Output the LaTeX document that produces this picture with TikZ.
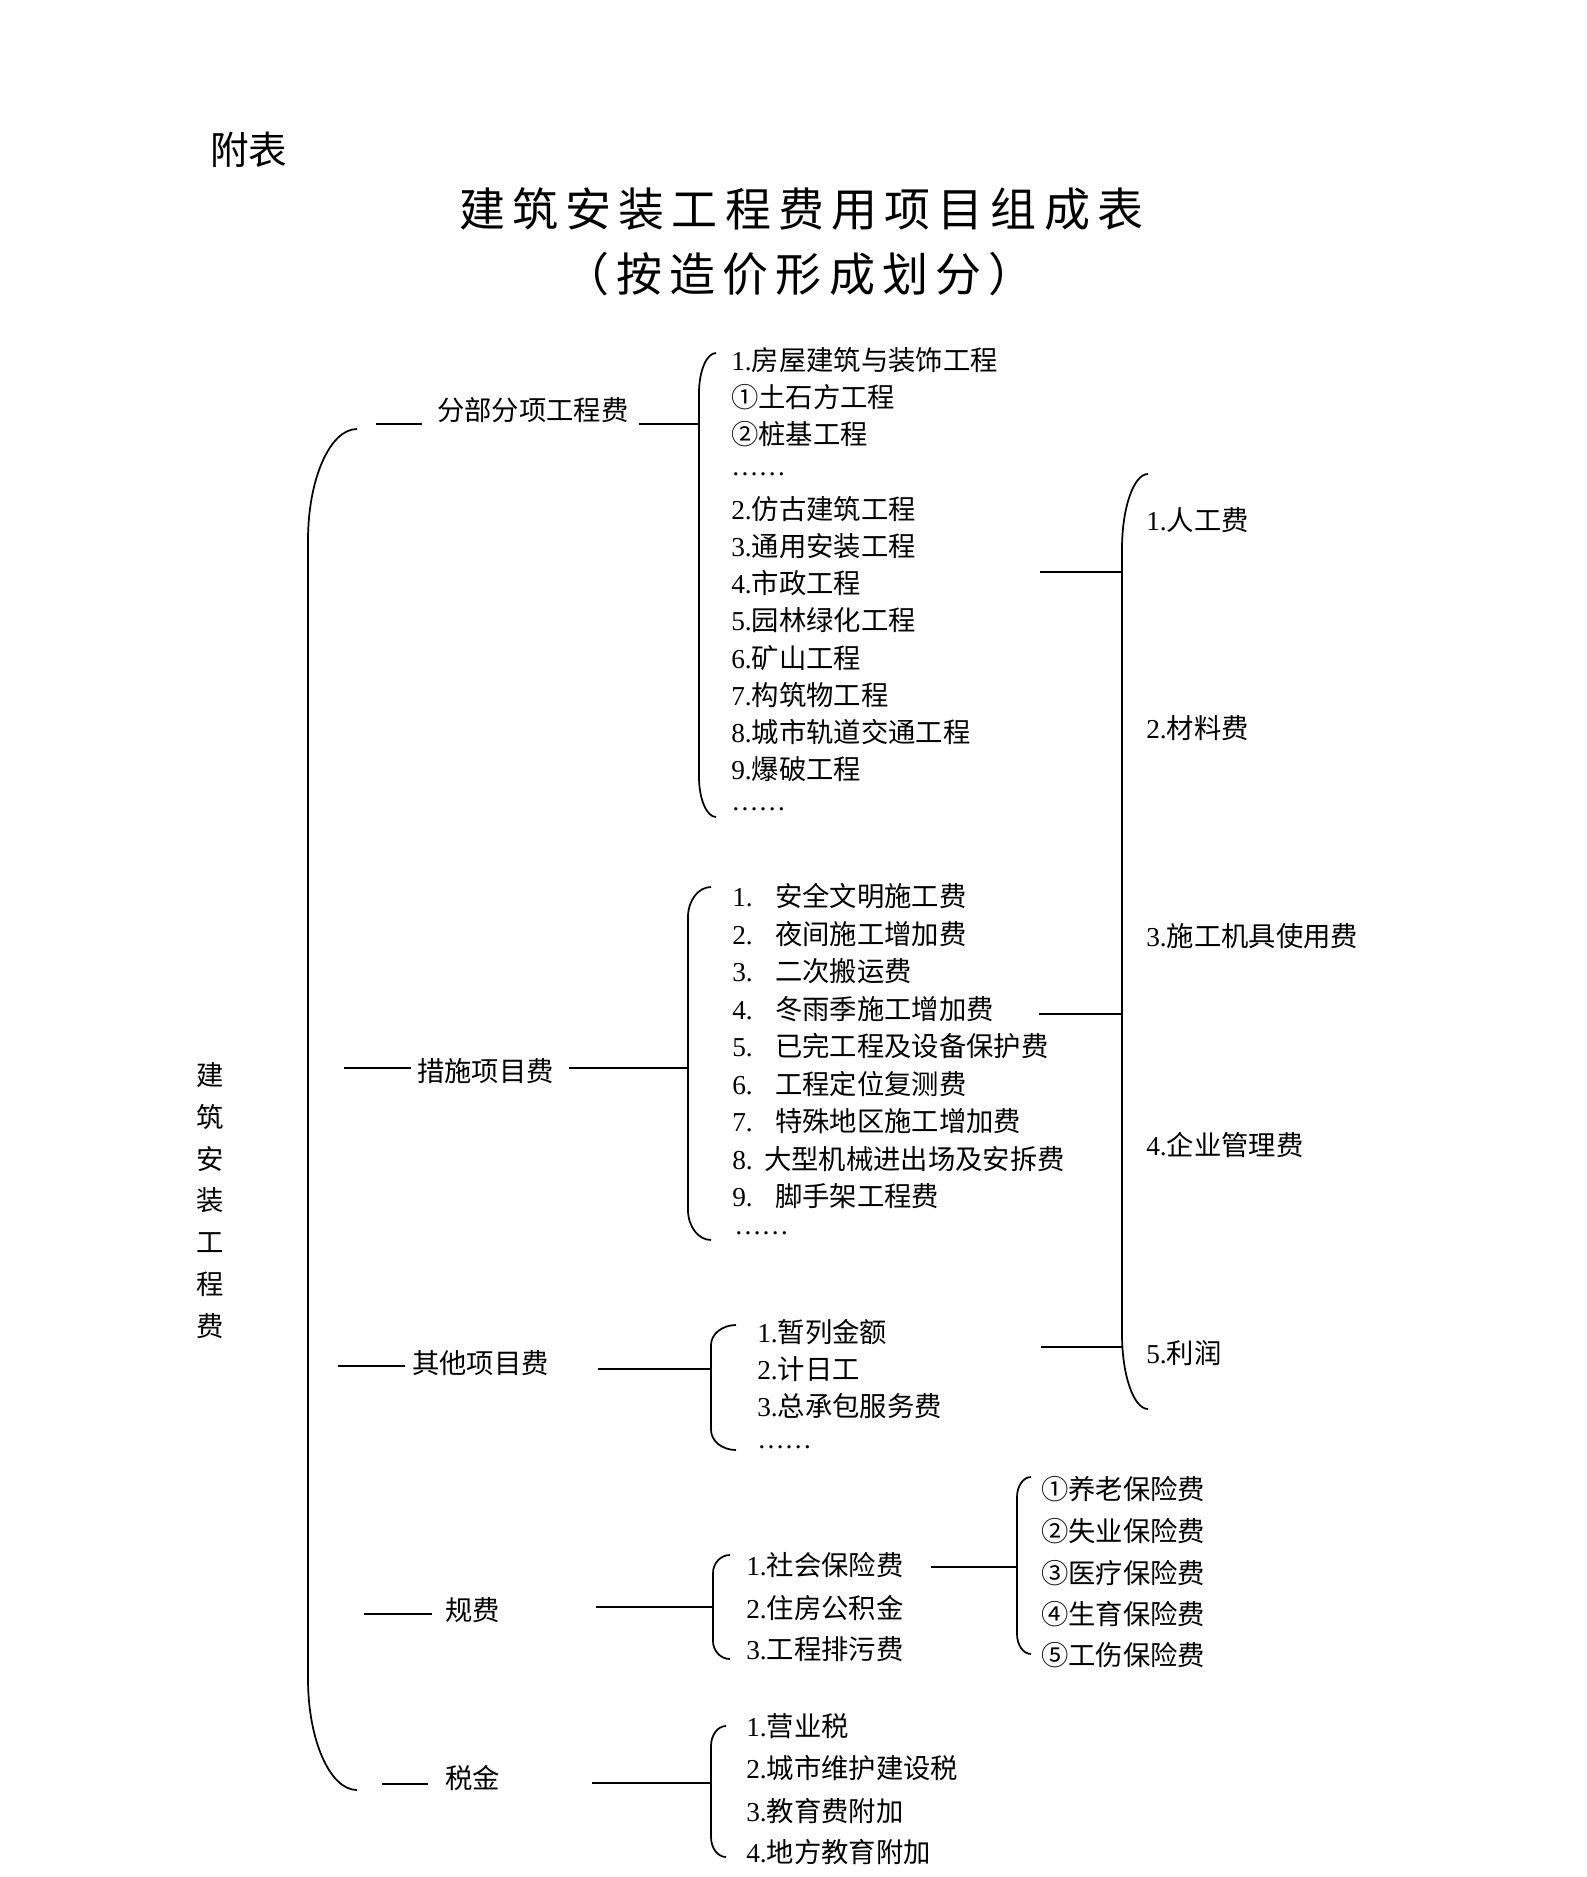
\documentclass[tikz,border=0pt]{standalone}
\usepackage{fontspec}
\setmainfont{Liberation Serif}
\newfontfamily\cjk{Noto Sans CJK SC}
\newcommand\zh[1]{{\cjk #1}}
\newcommand\body{\fontsize{20.5pt}{24pt}\selectfont}
\newcommand\titlefont{\cjk\fontsize{34.5pt}{40pt}\selectfont\addfontfeature{LetterSpace=15.6}}
% bracket: x of vertical, x of ends, y top, y bottom, curve height
\newcommand\mybrack[5]{%
  \draw[br] (#2,#3) .. controls ({#1+0.45*(#2-#1)},#3) and (#1,{#3+0.45*#5}) .. (#1,{#3+#5})
    -- (#1,{#4-#5}) .. controls (#1,{#4-0.45*#5}) and ({#1+0.45*(#2-#1)},#4) .. (#2,#4);}
\begin{document}
\begin{tikzpicture}[x=0.75pt,y=-0.75pt,
  ln/.style={line width=1.5pt},
  br/.style={line width=1.3pt},
  txt/.style={inner sep=0pt,anchor=west,text height=16.9pt,text depth=3.56pt,font=\body},
  lvl/.style={txt,font=\body\cjk},
  dotrow/.style={inner sep=0pt,anchor=base west,font=\body},
]
\fill[white] (0,0) rectangle (1587,1877);
\useasboundingbox (0,0) rectangle (1587,1877);

% header and title
\node[inner sep=0pt,anchor=west,text height=25.5pt,text depth=3.5pt,font=\cjk\fontsize{29pt}{32pt}\selectfont] (head) at (210,150) {附表};
\node[inner sep=0pt,anchor=west,text height=30.4pt,text depth=4.1pt,font=\titlefont] (title) at (459,209) {建筑安装工程费用项目组成表};
\node[inner sep=0pt,anchor=west,text height=30.4pt,text depth=4.1pt,font=\titlefont] (subtitle) at (563,274) {（按造价形成划分）};

% vertical root label
\foreach \c [count=\i from 0] in {建,筑,安,装,工,程,费}
  \node[inner sep=0pt,text height=18.04pt,text depth=2.46pt,font=\body\cjk] (v\i) at (210,{1075+41.8*\i}) {\c};

% root bracket
\mybrack{308}{357}{429}{1790}{111}

% level 1 labels
\node[lvl] (fbfx) at (437,412) {分部分项工程费};
\node[lvl] (csxm) at (417,1073) {措施项目费};
\node[lvl] (qtxm) at (412,1365) {其他项目费};
\node[lvl] (gf)   at (445,1612) {规费};
\node[lvl] (sj)   at (445,1780) {税金};

% connector ends
\coordinate (fbL1) at (376,424); \coordinate (fbL2) at (422,424);
\coordinate (fbR)  at (639,424); \coordinate (fbB)  at (699,424);
\coordinate (csL1) at (344,1068); \coordinate (csL2) at (411,1068);
\coordinate (csR)  at (569,1068); \coordinate (csB)  at (688,1068);
\coordinate (qtL1) at (338,1366); \coordinate (qtL2) at (405,1366);
\coordinate (qtR)  at (598,1369); \coordinate (qtB)  at (711,1369);
\coordinate (gfL1) at (364,1614); \coordinate (gfL2) at (432,1614);
\coordinate (gfR)  at (596,1607); \coordinate (gfB)  at (713,1607);
\coordinate (sjL1) at (382,1784); \coordinate (sjL2) at (428,1784);
\coordinate (sjR)  at (592,1783); \coordinate (sjB)  at (711,1783);
\coordinate (shR)  at (931,1567); \coordinate (shB)  at (1017,1567);
\coordinate (k1R)  at (1040,572);  \coordinate (k1B) at (1122,572);
\coordinate (k2R)  at (1039,1014); \coordinate (k2B) at (1122,1014);
\coordinate (k3R)  at (1041,1347); \coordinate (k3B) at (1122,1347);

\foreach \a/\b in {fbL1/fbL2,fbR/fbB,csL1/csL2,csR/csB,qtL1/qtL2,qtR/qtB,gfL1/gfL2,gfR/gfB,sjL1/sjL2,sjR/sjB,shR/shB,k1R/k1B,k2R/k2B,k3R/k3B}
  \draw[ln] (\a) -- (\b);

% brackets of level 2
\mybrack{699}{716}{353}{817}{40}
\mybrack{688}{711}{887}{1240}{30}
\mybrack{711}{736}{1325}{1450}{20}
\mybrack{713}{730}{1555}{1659}{18}
\mybrack{1017}{1031}{1477}{1654}{20}
\mybrack{711}{726}{1726}{1857}{20}
\mybrack{1122}{1148}{474}{1409}{75}

% 分部分项工程费 items
\node[txt] (a1)  at (731,362)   {1.\zh{房屋建筑与装饰工程}};
\node[txt] (a2)  at (731,399)   {\zh{①土石方工程}};
\node[txt] (a3)  at (731,436)   {\zh{②桩基工程}};
\node[dotrow] (a4) at (731,475) {……};
\node[txt] (a5)  at (731,511)   {2.\zh{仿古建筑工程}};
\node[txt] (a6)  at (731,548)   {3.\zh{通用安装工程}};
\node[txt] (a7)  at (731,585)   {4.\zh{市政工程}};
\node[txt] (a8)  at (731,622)   {5.\zh{园林绿化工程}};
\node[txt] (a9)  at (731,660)   {6.\zh{矿山工程}};
\node[txt] (a10) at (731,697)   {7.\zh{构筑物工程}};
\node[txt] (a11) at (731,734)   {8.\zh{城市轨道交通工程}};
\node[txt] (a12) at (731,771)   {9.\zh{爆破工程}};
\node[dotrow] (a13) at (731,810) {……};

% 措施项目费 items
\node[txt] (c1) at (732,898)    {1.\hspace{16.9pt}\zh{安全文明施工费}};
\node[txt] (c2) at (732,935.5)  {2.\hspace{16.9pt}\zh{夜间施工增加费}};
\node[txt] (c3) at (732,973)    {3.\hspace{16.9pt}\zh{二次搬运费}};
\node[txt] (c4) at (732,1010.5) {4.\hspace{16.9pt}\zh{冬雨季施工增加费}};
\node[txt] (c5) at (732,1048)   {5.\hspace{16.9pt}\zh{已完工程及设备保护费}};
\node[txt] (c6) at (732,1085.5) {6.\hspace{16.9pt}\zh{工程定位复测费}};
\node[txt] (c7) at (732,1123)   {7.\hspace{16.9pt}\zh{特殊地区施工增加费}};
\node[txt] (c8) at (732,1160.5) {8.\hspace{8.6pt}\zh{大型机械进出场及安拆费}};
\node[txt] (c9) at (732,1198)   {9.\hspace{16.9pt}\zh{脚手架工程费}};
\node[dotrow] (c10) at (734,1234) {……};

% 其他项目费 items
\node[txt] (q1) at (757,1334) {1.\zh{暂列金额}};
\node[txt] (q2) at (757,1371) {2.\zh{计日工}};
\node[txt] (q3) at (757,1408) {3.\zh{总承包服务费}};
\node[dotrow] (q4) at (757,1448) {……};

% 规费 items
\node[txt] (g1) at (746,1567) {1.\zh{社会保险费}};
\node[txt] (g2) at (746,1610) {2.\zh{住房公积金}};
\node[txt] (g3) at (746,1651) {3.\zh{工程排污费}};

% 社会保险费 items
\node[txt] (s1) at (1041,1491) {\zh{①养老保险费}};
\node[txt] (s2) at (1041,1533) {\zh{②失业保险费}};
\node[txt] (s3) at (1041,1575) {\zh{③医疗保险费}};
\node[txt] (s4) at (1041,1616) {\zh{④生育保险费}};
\node[txt] (s5) at (1041,1657) {\zh{⑤工伤保险费}};

% 税金 items
\node[txt] (t1) at (746,1728) {1.\zh{营业税}};
\node[txt] (t2) at (746,1770) {2.\zh{城市维护建设税}};
\node[txt] (t3) at (746,1813) {3.\zh{教育费附加}};
\node[txt] (t4) at (746,1854) {4.\zh{地方教育附加}};

% cost elements
\node[txt] (k1) at (1146,522)  {1.\zh{人工费}};
\node[txt] (k2) at (1146,730)  {2.\zh{材料费}};
\node[txt] (k3) at (1146,938)  {3.\zh{施工机具使用费}};
\node[txt] (k4) at (1146,1147) {4.\zh{企业管理费}};
\node[txt] (k5) at (1146,1355) {5.\zh{利润}};
\end{tikzpicture}
\end{document}
